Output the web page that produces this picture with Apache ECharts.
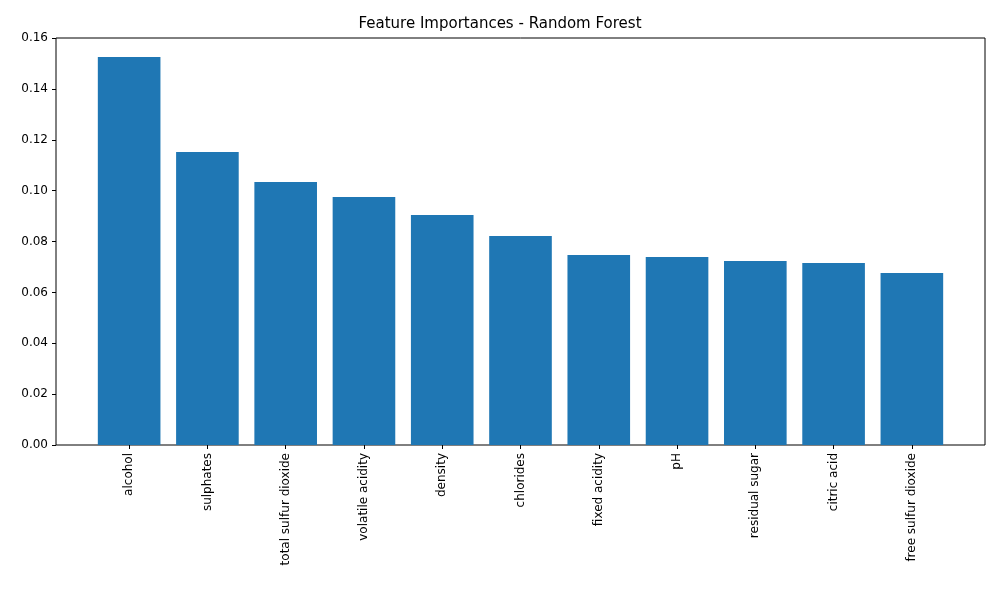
<!DOCTYPE html>
<html><head><meta charset="utf-8">
<script src="https://cdn.jsdelivr.net/npm/echarts@6/dist/echarts.min.js"></script>
<style>html,body{margin:0;padding:0;background:#fff}#c{width:1000px;height:600px}</style>
</head><body><div id="c"></div>
<script>
const categories = ["alcohol","sulphates","total sulfur dioxide","volatile acidity","density","chlorides","fixed acidity","pH","residual sugar","citric acid","free sulfur dioxide"];
const importances = [0.1525,0.1152,0.1034,0.0975,0.0904,0.0822,0.0747,0.0739,0.0723,0.0715,0.0676];
const yTicks = {min:0, max:0.16, interval:0.02};
const font = "DejaVu Sans";
const chart = echarts.init(document.getElementById('c'));
chart.setOption({
  animation:false,
  title:{text:"Feature Importances - Random Forest",left:'center',top:12,textStyle:{fontFamily:font,fontSize:15,fontWeight:'normal',color:'#000'}},
  grid:[
    {left:56,right:15,top:38,bottom:155,show:true,borderColor:'#000',borderWidth:1,backgroundColor:'transparent'},
    {left:90,right:49,top:38,bottom:155}
  ],
  xAxis:[
    {gridIndex:0,type:'value',min:0,max:1,show:false},
    {gridIndex:1,type:'category',data:categories,axisLine:{show:false},
     axisTick:{show:true,alignWithLabel:true,length:4,lineStyle:{color:'#000'}},
     axisLabel:{rotate:90,interval:0,fontFamily:font,fontSize:12,color:'#000',margin:8}}
  ],
  yAxis:[
    {gridIndex:0,type:'value',min:yTicks.min,max:yTicks.max,interval:yTicks.interval,
     axisLine:{show:false},axisTick:{show:true,length:4,lineStyle:{color:'#000'}},splitLine:{show:false},
     axisLabel:{fontFamily:font,fontSize:12,color:'#000',formatter:v=>v.toFixed(2)}},
    {gridIndex:1,type:'value',min:yTicks.min,max:yTicks.max,show:false}
  ],
  series:[{type:'bar',xAxisIndex:1,yAxisIndex:1,data:importances,barWidth:'80%',itemStyle:{color:'#1f77b4'}}]
});
</script></body></html>
